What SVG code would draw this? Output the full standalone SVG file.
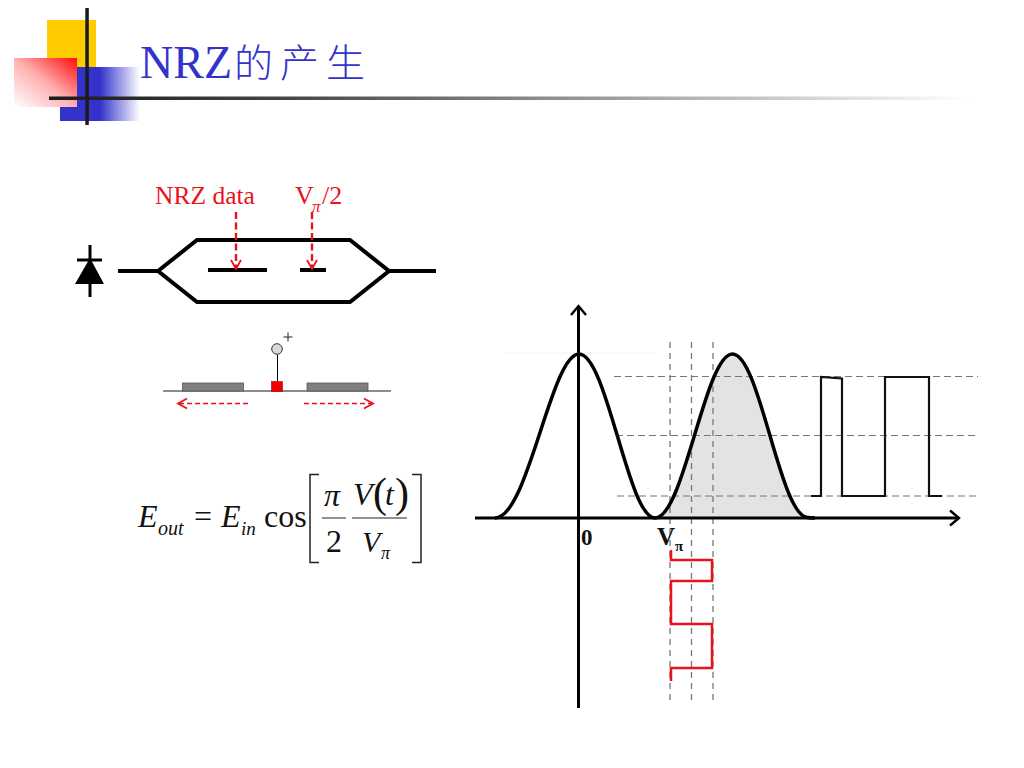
<svg xmlns="http://www.w3.org/2000/svg" width="1024" height="768" viewBox="0 0 1024 768">
<style>
.serif{font-family:"Liberation Serif","Noto Sans CJK SC",serif}
.red{fill:#e8131c}
.eq{font-family:"Liberation Serif",serif;fill:#111}
.i{font-style:italic}
.b{font-weight:bold;fill:#111}
.wg{fill:none;stroke:#000;stroke-width:4;stroke-linejoin:miter}
.rd{fill:none;stroke:#e8131c;stroke-width:2.400;stroke-dasharray:7 3.500}
.rt{fill:none;stroke:#e8131c;stroke-width:1.600;stroke-dasharray:5 3}
.gd{fill:none;stroke:#777;stroke-width:1;stroke-dasharray:7 4}
.gv{fill:none;stroke:#777;stroke-width:1.300;stroke-dasharray:6 5}
.ax{fill:none;stroke:#000;stroke-width:3}
.br{fill:none;stroke:#222;stroke-width:1.500}
</style>
<defs>
<linearGradient id="redG" x1="1" y1="0" x2="0" y2="1"><stop offset="0" stop-color="#ff0d0d"/><stop offset=".5" stop-color="#ffb0b0"/><stop offset="1" stop-color="#fff"/></linearGradient>
<linearGradient id="blueG" gradientUnits="userSpaceOnUse" x1="100" y1="0" x2="140" y2="0"><stop offset="0" stop-color="#3333cc"/><stop offset="1" stop-color="#fff"/></linearGradient>
<linearGradient id="lineG" x1="0" y1="0" x2="1" y2="0"><stop offset="0" stop-color="#1a1a1a"/><stop offset=".25" stop-color="#444"/><stop offset="1" stop-color="#fff"/></linearGradient>
<marker id="redHead" markerWidth="14" markerHeight="14" refX="10" refY="7" orient="auto" markerUnits="userSpaceOnUse"><path d="M1 2 L10 7 L1 12" fill="none" stroke="#e8131c" stroke-width="1.800"/></marker>
<marker id="axHead" markerWidth="18" markerHeight="18" refX="14" refY="9" orient="auto" markerUnits="userSpaceOnUse"><path d="M5 1.500 L14 9 L5 16.500" fill="none" stroke="#000" stroke-width="2.400"/></marker>
</defs>
<rect width="1024" height="768" fill="#fff"/>

<g id="header">
<rect x="47" y="20" width="49" height="48" fill="#ffcc00"/>
<rect x="77" y="67" width="63" height="40" fill="url(#blueG)"/>
<rect x="60" y="107" width="80" height="14" fill="url(#blueG)"/>
<rect x="14" y="58" width="63" height="49" fill="url(#redG)"/>
<rect x="49" y="96.500" width="921" height="3.500" fill="url(#lineG)"/>
<rect x="85.300" y="8" width="3.500" height="117" fill="#1a1a1a"/>
<text class="serif" x="140" y="78" font-size="46" fill="#3333cc">NRZ</text>
<text x="234" y="77" font-size="39" fill="#3333cc" font-family="'Noto Sans CJK SC',sans-serif" font-weight="300" letter-spacing="7">的产生</text>
</g>

<g id="modulator">
<path class="wg" d="M118 271H158M389 271H436M158 271L197 240H350L389 271L350 302H197Z"/>
<path class="wg" d="M208 270H267M300 270H326"/>
</g>
<g id="diode">
<path d="M90 245V297M77 260H102" stroke="#000" stroke-width="3" fill="none"/>
<path d="M90 258L75 284H104Z" fill="#000"/>
</g>
<g id="labels-top">
<text class="serif red" x="155" y="204" font-size="25.500">NRZ data</text>
<text class="serif red" x="295" y="204" font-size="26">V</text>
<text class="serif red i" x="312" y="212" font-size="17">π</text>
<text class="serif red" x="322" y="204" font-size="26">/2</text>
</g>

<g id="electrode-section">
<path d="M163 391H391" stroke="#666" stroke-width="1.300"/>
<rect x="182.500" y="383" width="61" height="8" fill="#808080" stroke="#555" stroke-width=".8"/>
<rect x="307" y="383" width="61" height="8" fill="#808080" stroke="#555" stroke-width=".8"/>
<path d="M277.500 355V381" stroke="#000" stroke-width="1"/>
<rect x="271.500" y="381.500" width="11" height="10" fill="#ee0000" stroke="#a00" stroke-width=".6"/>
<circle cx="277" cy="349" r="5.300" fill="#d8d8d8" stroke="#333" stroke-width="1"/>
<path d="M288 332.500V341.500M283.500 337H292.500" stroke="#222" stroke-width="1"/>
</g>

<g id="connectors">
<path class="rd" d="M236 212V269" marker-end="url(#redHead)"/>
<path class="rd" d="M312 212V269" marker-end="url(#redHead)"/>
<path class="rt" d="M248 403.500H178" marker-end="url(#redHead)"/>
<path class="rt" d="M304 403.500H373" marker-end="url(#redHead)"/>
</g>

<g id="equation">
<text class="eq i" x="138" y="527" font-size="32">E</text>
<text class="eq i" x="158" y="535" font-size="20">out</text>
<text class="eq" x="194" y="527" font-size="32">=</text>
<text class="eq i" x="221" y="527" font-size="32">E</text>
<text class="eq i" x="241" y="535" font-size="19">in</text>
<text class="eq" x="264" y="527" font-size="32">cos</text>
<path class="br" d="M319 474.500H310V562.500H319M412 474.500H421V562.500H412"/>
<text class="eq i" x="324" y="506" font-size="32">π</text>
<path d="M322 518H346M352 518H407" stroke="#222" stroke-width="1.200"/>
<text class="eq" x="326" y="552" font-size="32">2</text>
<text class="eq i" x="353" y="505" font-size="32">V</text>
<text class="eq" x="373" y="507" font-size="42">(</text>
<text class="eq i" x="385" y="505" font-size="32">t</text>
<text class="eq" x="395" y="507" font-size="42">)</text>
<text class="eq i" x="362" y="552" font-size="30">V</text>
<text class="eq i" x="381" y="559" font-size="18">π</text>
</g>

<g id="plot">
<path d="M656 518C684 518 705 354 732 354C760 354 780 518 808 518Z" fill="#e3e3e3"/>
<path d="M505 353H655" stroke="#f3f3f3" stroke-width="1"/>
<path class="gd" d="M614 376.500H978M616 435.500H978M617 496H980"/>
<path class="gv" d="M670 342V702M691.500 342V702M713 342V702"/>
<path class="ax" d="M475 518H959" marker-end="url(#axHead)"/>
<path class="ax" d="M578.500 708V306" marker-end="url(#axHead)"/>
<path d="M495 518C528 518 551 354 579 354C607 354 628 518 655 518C684 518 705 354 732.500 354C760 354 780 518 808 517.500C810 518 813 518 815 518" fill="none" stroke="#000" stroke-width="3.500"/>
<path d="M811 496H821V377L842 378.500V496H885V377H929V496H942" fill="none" stroke="#111" stroke-width="2.200"/>
<path d="M671 550V560H712V581H671V624H712V668H671V681" fill="none" stroke="#e8131c" stroke-width="2.500"/>
<text class="serif b" x="581" y="545" font-size="23">0</text>
<text class="serif b" x="657" y="545" font-size="25">V</text>
<text class="serif b" x="675" y="551" font-size="15">π</text>
</g>
</svg>
